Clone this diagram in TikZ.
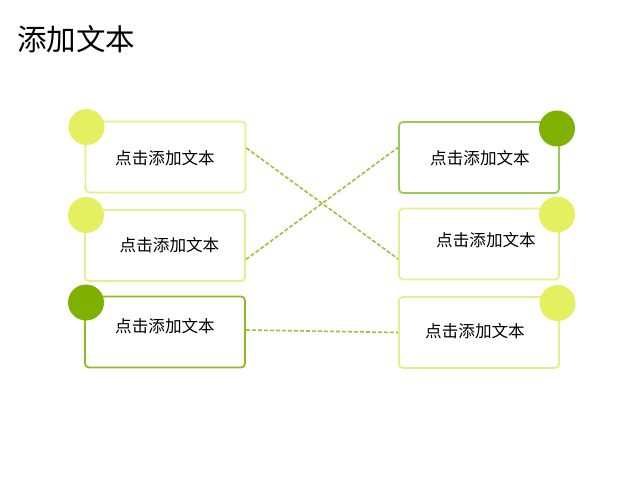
\documentclass[tikz,border=0pt]{standalone}
\usepackage{fontspec}
\setmainfont{Noto Sans CJK SC}
\usepackage{xcolor}
\definecolor{DotLight}{RGB}{229,240,96}
\definecolor{DotDark}{RGB}{127,177,0}
\definecolor{EdgeLight}{RGB}{226,240,140}
\definecolor{EdgeDark}{RGB}{140,187,38}
\definecolor{EdgeMid}{RGB}{157,200,83}
\definecolor{LinkColor}{RGB}{156,196,58}
\usetikzlibrary{positioning, calc}

\begin{document}
\begin{tikzpicture}[
    x=1pt, y=-1pt,
    every node/.style={font=\fontsize{16.6}{18}\selectfont},
    card/.style={rectangle, draw, line width=1.8pt, rounded corners=4pt, fill=white, minimum width=160pt, minimum height=71pt, inner sep=0pt},
    lightcard/.style={card, draw=EdgeLight},
    darkcard/.style={card, draw=EdgeDark},
    midcard/.style={card, draw=EdgeMid},
    dot/.style={circle, minimum size=36pt, inner sep=0pt},
    lightdot/.style={dot, fill=DotLight},
    darkdot/.style={dot, fill=DotDark},
    label/.style={inner sep=0pt},
    link/.style={draw=LinkColor, line width=1.6pt, dash pattern=on 4pt off 2pt},
]
\useasboundingbox (0,0) rectangle (635,484);

% Title
\node[label, anchor=west, font=\fontsize{29.5}{31}\selectfont] (title) at (17,39) {添加文本};

% Left cards
\node[lightcard] (l1) at (165.5,157) {};
\node[lightcard] (l2) at (165,245.5) {};
\node[darkcard] (l3) at (165,332) {};

% Right cards
\node[midcard] (r1) at (479,157.5) {};
\node[lightcard] (r2) at (479,244) {};
\node[lightcard] (r3) at (479,332.5) {};

% Dots
\node[lightdot] (dl1) at (86.5,127) {};
\node[lightdot] (dl2) at (86,215) {};
\node[darkdot] (dl3) at (86,302.5) {};
\node[darkdot] (dr1) at (557,128.5) {};
\node[lightdot] (dr2) at (557,214.5) {};
\node[lightdot] (dr3) at (557.5,303) {};

% Texts
\node[label] (tl1) at (165,158) {点击添加文本};
\node[label] (tl2) at (169.5,245) {点击添加文本};
\node[label] (tl3) at (165,326) {点击添加文本};
\node[label] (tr1) at (480,158.5) {点击添加文本};
\node[label] (tr2) at (486,240) {点击添加文本};
\node[label] (tr3) at (475,331) {点击添加文本};

% Links
\draw[link] ([yshift=9pt]l1.east) -- ([yshift=-15pt]r2.west);
\draw[link] ([yshift=-14pt]l2.east) -- ([yshift=10pt]r1.west);
\draw[link] ([yshift=2pt]l3.east) -- (r3.west);

\end{tikzpicture}
\end{document}
